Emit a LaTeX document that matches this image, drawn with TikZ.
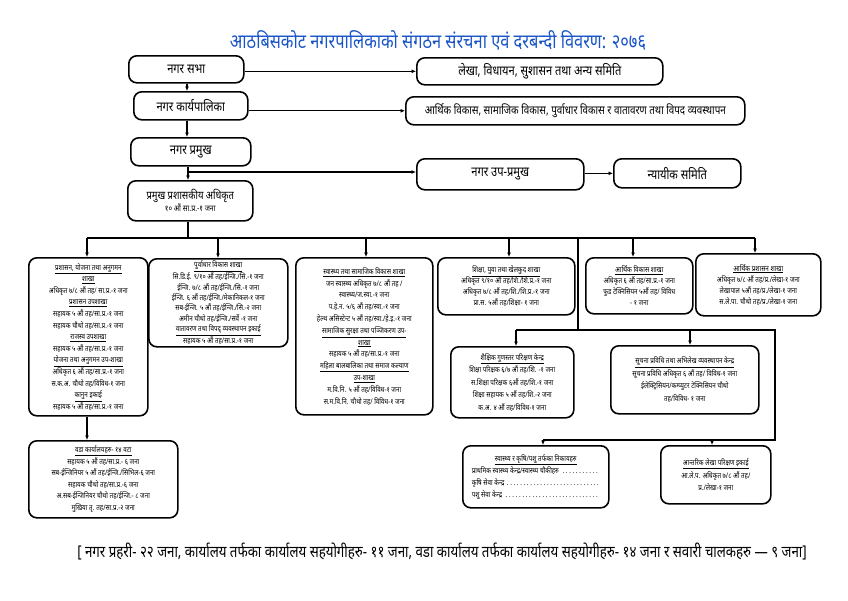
\documentclass[tikz,border=0pt]{standalone}
\usepackage{fontspec}
\setmainfont[Script=Devanagari,FakeStretch=0.82]{Noto Sans}
\usetikzlibrary{arrows.meta}
\definecolor{titleblue}{RGB}{25,85,200}
\newcommand{\myhd}[1]{\textbf{\underline{#1}}}
\begin{document}
\begin{tikzpicture}[x=1pt,y=-1pt,
  box/.style={draw, line width=1.6pt, rounded corners=8pt, align=center, inner sep=1pt, anchor=north west},
  topbox/.style={box, font=\fontsize{13.5}{16}\selectfont},
  small/.style={font=\fontsize{7.6}{#1}\selectfont},
  ln/.style={line width=1.1pt},
  arr/.style={line width=1.1pt, -{Latex[length=4.5pt,width=4pt]}}]
\useasboundingbox (0,0) rectangle (848,600);
\fill[white] (0,0) rectangle (848,600);

\node[font=\fontsize{20}{22}\selectfont\bfseries, text=titleblue] (title) at (438,40) {आठबिसकोट नगरपालिकाको संगठन संरचना एवं दरबन्दी विवरण: २०७६};

% top level
\node[topbox, minimum width=115pt, minimum height=27pt] (n1) at (128,55) {नगर सभा};
\node[topbox, minimum width=246pt, minimum height=27pt] (r1) at (416,57) {लेखा, विधायन, सुशासन तथा अन्य समिति};
\node[topbox, minimum width=114pt, minimum height=28pt] (n2) at (133,91) {नगर कार्यपालिका};
\node[box, font=\fontsize{12}{14}\selectfont, minimum width=339pt, minimum height=28pt] (r2) at (405,96) {आर्थिक विकास, सामाजिक विकास, पुर्वाधार विकास र वातावरण तथा विपद व्यवस्थापन};
\node[topbox, minimum width=120pt, minimum height=28pt] (n3) at (130,137) {नगर प्रमुख};
\node[box, minimum width=125pt, minimum height=40pt] (n4) at (127,180) {{\fontsize{11.5}{14}\selectfont प्रमुख प्रशासकीय अधिकृत}\\{\fontsize{8.5}{11}\selectfont १० औं सा.प्र.-१ जना}};
\node[topbox, minimum width=167pt, minimum height=31pt] (u) at (416,158) {नगर उप-प्रमुख};
\node[topbox, minimum width=127pt, minimum height=29pt] (j) at (613,158) {न्यायीक समिति};

\draw[arr] (n1.east |- r1.west) -- (r1.west);
\draw[arr] (n2.east |- r2.west) -- (r2.west);
\draw[arr] (n1.south -| 187,0) -- (n2.north -| 187,0);
\draw[arr] (n2.south -| 187,0) -- (n3.north -| 187,0);
\draw[arr] (n3.south -| 188,0) -- (n4.north -| 188,0);
\coordinate (ub) at (188,172);
\draw[arr] (ub) -- (ub -| u.west);
\draw[arr] (u.east |- j.west) -- (j.west);

% bus
\coordinate (bus1) at (87,238);
\coordinate (bus2) at (218,238);
\coordinate (bus3) at (366,238);
\coordinate (bus4) at (509,238);
\coordinate (bus5) at (633,238);
\coordinate (bus6) at (755,238);
\coordinate (trk) at (578,238);
\draw[ln] (n4.south -| 188,0) -- (bus1 -| 188,0);
\draw[ln] (bus1) -- (bus6);

% branch boxes
\node[box, small=11.6, minimum width=119pt, minimum height=158pt] (b1) at (28,257) {\myhd{प्रशासन, योजना तथा अनुगमन}\\\myhd{शाखा}\\अधिकृत ७/८ औं तह/ सा.प्र.-१ जना\\\myhd{प्रशासन उपशाखा}\\सहायक ५ औं तह/सा.प्र.-१ जना\\सहायक चौथो तह/सा.प्र.-१ जना\\\myhd{राजस्व उपशाखा}\\सहायक ५ औं तह/सा.प्र.-१ जना\\\myhd{योजना तथा अनुगमन उप-शाखा}\\अधिकृत ६ औं तह/सा.प्र.-१ जना\\स.क.अ. चौथो तह/विविध-१ जना\\\myhd{कानुन इकाई}\\सहायक ५ औं तह/सा.प्र.-१ जना};

\node[box, small=10.3, minimum width=139pt, minimum height=88pt] (b2) at (148,258) {\myhd{पुर्वाधार विकास शाखा}\\सि.डि.ई. ९/१० औं तह/ईन्जि./सि.-१ जना\\ईन्जि. ७/८ औं तह/ईन्जि./सि.-१ जना\\ईन्जि. ६ औं तह/ईन्जि./मेकानिकल-१ जना\\सब-ईन्जि. ५ औं तह/ईन्जि./सि.-२ जना\\अमीन चौथो तह/ईन्जि./सर्वे -१ जना\\\myhd{वातावरण तथा विपद् व्यवस्थापन इकाई}\\सहायक ५ औं तह/सा.प्र.-१ जना};

\node[box, small=11.8, minimum width=137pt, minimum height=157pt] (b3) at (295,257) {\myhd{स्वास्थ्य तथा सामाजिक विकास शाखा}\\जन स्वास्थ्य अधिकृत ७/८ औं तह /\\स्वास्थ्य/ज.स्वा.-१ जना\\प.हे.न. ५/६ औं तह/स्वा.-१ जना\\हेल्थ असिस्टेन्ट ५ औं तह/स्वा./हे.इ.-१ जना\\\myhd{सामाजिक सुरक्षा तथा पञ्जिकरण उप-}\\\myhd{शाखा}\\सहायक ५ औं तह/सा.प्र.-१ जना\\\myhd{महिला बालबालिका तथा समाज कल्याण}\\\myhd{उप-शाखा}\\म.वि.नि. ५ औं तह/विविध-१ जना\\स.म.वि.नि. चौथो तह/ विविध-१ जना};

\node[box, small=11, minimum width=137pt, minimum height=57pt] (b4) at (437,257) {\myhd{शिक्षा, युवा तथा खेलकुद शाखा}\\अधिकृत ९/१० औं तह/शि./शि.प्र.-१ जना\\अधिकृत ७/८ औं तह/शि./शि.प्र.-१ जना\\प्रा.स. ५औं तह/शिक्षा- १ जना};

\node[box, small=11, minimum width=107pt, minimum height=56pt] (b5) at (585,257) {\myhd{आर्थिक विकास शाखा}\\अधिकृत ६ औं तह/सा.प्र.-१ जना\\फुड टेक्निसियन ५औं तह/ विविध\\- १ जना};

\node[box, small=11, minimum width=125pt, minimum height=62pt] (b6) at (695,253) {\myhd{आर्थिक प्रशासन शाखा}\\अधिकृत ७/८ औं तह/प्र./लेखा-१ जना\\लेखापाल ५औं तह/प्र./लेखा-१ जना\\स.ले.पा. चौथो तह/प्र./लेखा-१ जना};

\foreach \b/\n in {bus1/b1,bus2/b2,bus3/b3,bus4/b4,bus5/b5,bus6/b6}
  \draw[arr] (\b) -- (\b |- \n.north);

% ward offices
\node[box, small=11.5, minimum width=149pt, minimum height=77pt] (w) at (28,440) {\myhd{वडा कार्यालयहरु- १४ वटा}\\सहायक ५ औं तह/सा.प्र.- ६ जना\\सब-ईन्जिनियर ५ औं तह/ईन्जि./सिभिल-६ जना\\सहायक चौथो तह/सा.प्र.-६ जना\\अ.सब-ईन्जिनियर चौथो तह/ईन्जि.- ८ जना\\मुखिया तृ. तह/सा.प्र.-२ जना};
\draw[arr] (b1.south -| bus1) -- (w.north -| bus1);

% right trunk
\coordinate (k7) at (516,330);
\coordinate (k8) at (690,330);
\coordinate (kt) at (578,330);
\coordinate (kr) at (775,330);
\coordinate (m9) at (543,440);
\coordinate (m10) at (712,440);
\coordinate (mr) at (775,440);
\draw[ln] (trk) -- (kt);
\draw[ln] (k7) -- (kr) -- (mr) -- (m9);

\node[box, small=12.5, minimum width=123pt, minimum height=71pt] (b7) at (450,346) {\myhd{शैक्षिक गुणस्तर परिक्षण केन्द्र}\\शिक्षा परिक्षक ६/७ औं तह/शि. -१ जना\\स.शिक्षा परिक्षक ६औं तह/शि.-१ जना\\शिक्षा सहायक ५ औं तह/शि.-२ जना\\क.अ. ४ औं तह/विविध-१ जना};

\node[box, small=12.5, minimum width=148pt, minimum height=68pt] (b8) at (610,345) {\myhd{सूचना प्रविधि तथा अभिलेख व्यवस्थापन केन्द्र}\\सूचना प्रविधि अधिकृत ६ औं तह/ विविध-१ जना\\ईलेक्ट्रिसियन/कम्प्युटर टेक्निसियन चौथो\\तह/विविध- १ जना};

\draw[arr] (k7) -- (k7 |- b7.north);
\draw[arr] (k8) -- (k8 |- b8.north);

\node[box, small=12, minimum width=146pt, minimum height=62pt] (b9) at (462,445) {\myhd{स्वास्थ्य र कृषि/पशु तर्फका निकायहरु}\\\makebox[128pt][l]{प्राथमिक स्वास्थ्य केन्द्र/स्वास्थ्य चौकीहरु \dotfill}\\\makebox[128pt][l]{कृषि सेवा केन्द्र \dotfill}\\\makebox[128pt][l]{पशु सेवा केन्द्र \dotfill}};

\node[box, small=12.5, minimum width=110pt, minimum height=58pt] (b10) at (660,445) {\myhd{आन्तरिक लेखा परिक्षण इकाई}\\आ.ले.प. अधिकृत ७/८ औं तह/\\प्र./लेखा-१ जना};

\draw[arr] (m9) -- (m9 |- b9.north);
\draw[arr] (m10) -- (m10 |- b10.north);

\node[font=\fontsize{16.2}{18}\selectfont] (foot) at (442,552) {[ नगर प्रहरी- २२ जना, कार्यालय तर्फका कार्यालय सहयोगीहरु- ११ जना, वडा कार्यालय तर्फका कार्यालय सहयोगीहरु- १४ जना र सवारी चालकहरु — ९ जना]};
\end{tikzpicture}
\end{document}
